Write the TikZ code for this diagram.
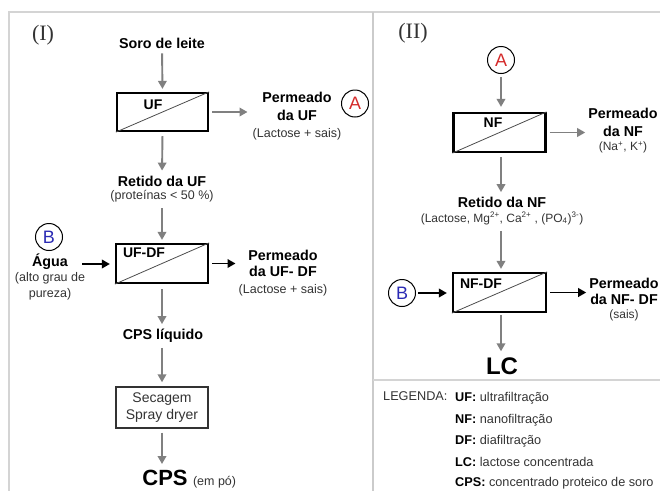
\documentclass[tikz,border=0pt]{standalone}
\usepackage{fontspec}
\setmainfont{Liberation Sans}
\newfontfamily\serifroman{Liberation Serif}
\usetikzlibrary{arrows.meta}
\definecolor{arrgray}{HTML}{808080}
\definecolor{txtgray}{HTML}{333333}
\definecolor{framegray}{HTML}{D4D4D4}
\definecolor{letterred}{HTML}{D42A2A}
\definecolor{letterblue}{HTML}{2A2AB4}
\newcommand{\subA}{\fontsize{12.5}{15}\mdseries\selectfont\color{txtgray}}
\newcommand{\subB}{\fontsize{12}{14}\mdseries\selectfont\color{txtgray}}
\tikzset{
  membox/.style={draw=black, line width=2.2pt, minimum width=91pt, minimum height=38pt, inner sep=0pt},
  drybox/.style={draw=black!80, line width=1.4pt, minimum width=92pt, minimum height=41pt, inner sep=0pt, align=center, font=\fontsize{14}{16.5}\selectfont, text=txtgray},
  diag/.style={draw=black!70, line width=0.8pt},
  garr/.style={draw=arrgray, line width=1.9pt, -{Triangle[length=8pt,width=8.5pt]}},
  barr/.style={draw=black, line width=1.9pt, -{Triangle[length=8pt,width=8.5pt]}},
  ttl/.style={font=\fontsize{14.3}{17.5}\selectfont\bfseries, inner sep=0pt, align=center},
  boxlbl/.style={font=\fontsize{14}{15}\selectfont\bfseries, inner sep=0pt},
  subt/.style={font=\fontsize{12.5}{14}\selectfont, text=txtgray},
  circ/.style={circle, draw=black, line width=1pt, minimum size=27pt, inner sep=0pt, font=\fontsize{18}{18}\selectfont},
  big/.style={font=\fontsize{22}{24}\selectfont\bfseries, inner sep=0pt},
  roman/.style={font=\fontsize{22}{22}\serifroman, text=txtgray, inner sep=0pt},
  frame/.style={draw=framegray, line width=1.6pt},
  legl/.style={font=\fontsize{12.7}{14}\selectfont, text=txtgray, anchor=west, inner sep=0pt}
}
\begin{document}
\begin{tikzpicture}[x=1pt,y=-1pt]
\useasboundingbox (0,0) rectangle (660,490);
% frame
\draw[frame] (9,492) -- (9,12) -- (662,12);
\draw[frame, draw=framegray!120] (373,12) -- (373,492);
\draw[frame] (373,380) -- (662,380);

% ---------- Panel I ----------
\node[roman] (tI) at (43,35) {(I)};
\node[ttl] (soro) at (162,43) {Soro de leite};
\node[membox] (uf) at (162.5,112) {};
\draw[diag] (uf.south west) -- (uf.north east);
\node[boxlbl] (uflbl) at (153,105) {UF};
\draw[garr, shorten <=5pt, shorten >=3pt] (soro.south) -- (uf.north);

\node[ttl] (permuf) at (297,116) {Permeado\\[1pt]da UF\\[-1pt]{\subA(Lactose + sais)}};
\node[circ, text=letterred] (circA) at (355,103.5) {A};
\draw[garr, shorten <=3pt, shorten >=5pt] (uf.east) -- (uf.east -| permuf.west);

\node[ttl] (retuf) at (162,189) {Retido da UF\\[-4pt]{\subA(proteínas < 50 \%)}};
\draw[garr, shorten <=4pt, shorten >=5pt] (uf.south) -- (retuf.north);

\node[membox, minimum width=92pt, minimum height=39pt] (ufdf) at (162,263.5) {};
\draw[diag] (ufdf.south west) -- (ufdf.north east);
\node[boxlbl] (ufdflbl) at (144,253) {UF-DF};
\draw[garr, shorten <=6pt, shorten >=3pt] (retuf.south) -- (ufdf.north);

\node[circ, text=letterblue] (circB) at (49,237) {B};
\node[ttl] (agua) at (50,277) {Água\\[-3pt]{\subA(alto grau de}\\[-1pt]{\subA pureza)}};
\coordinate (aguain) at (82,264);
\draw[barr, shorten >=5pt] (aguain) -- (aguain -| ufdf.west);

\node[ttl] (permufdf) at (283,273) {Permeado\\[-1pt]da UF- DF\\[-1pt]{\subA(Lactose + sais)}};
\draw[barr, shorten <=3pt, shorten >=3pt] (ufdf.east) -- (ufdf.east -| permufdf.west);

\node[ttl] (cpsliq) at (163,336) {CPS líquido};
\draw[garr, shorten <=5pt, shorten >=5pt] (ufdf.south) -- (ufdf.south |- cpsliq.north);

\node[drybox] (dry) at (162,407.5) {Secagem\\Spray dryer};
\draw[garr, shorten <=5pt, shorten >=4pt] (dry.north |- cpsliq.south) -- (dry.north);

\node[big] (cps) at (165,478) {CPS};
\node[subt, anchor=base west, inner sep=0pt] (empo) at ([xshift=5pt]cps.base east) {(em pó)};
\draw[garr, shorten <=4pt, shorten >=6pt] (dry.south) -- (dry.south |- cps.north);

% ---------- Panel II ----------
\node[roman] (tII) at (413,33) {(II)};
\node[circ, text=letterred] (circA2) at (501,60) {A};
\node[membox, minimum width=92pt, minimum height=39pt] (nf) at (499.5,132.5) {};
\draw[diag] (nf.south west) -- (nf.north east);
\node[boxlbl] (nflbl) at (493,123) {NF};
\draw[garr, shorten <=3pt, shorten >=5pt] (circA2.south) -- (circA2.south |- nf.north);

\node[ttl] (permnf) at (623,131) {Permeado\\da NF\\[-3pt]{\subB(Na\textsuperscript{+}, K\textsuperscript{+})}};
\draw[garr, shorten <=3pt, shorten >=3pt] (nf.east) -- (nf.east -| permnf.west);

\node[ttl] (retnf) at (502,211) {Retido da NF\\[-3pt]{\subB(Lactose, Mg\textsuperscript{2+}, Ca\textsuperscript{2+} , (PO\textsubscript{4})\textsuperscript{3-})}};
\draw[garr, shorten <=4pt, shorten >=5pt] (circA2.south |- nf.south) -- (circA2.south |- retnf.north);

\node[membox, minimum width=93pt, minimum height=39pt] (nfdf) at (499.5,292.5) {};
\draw[diag] (nfdf.south west) -- (nfdf.north east);
\node[boxlbl] (nfdflbl) at (481,284) {NF-DF};
\draw[garr, shorten <=6pt, shorten >=3pt] (circA2.south |- retnf.south) -- (circA2.south |- nfdf.north);

\node[circ, text=letterblue] (circB2) at (402,293) {B};
\draw[barr, shorten <=2pt, shorten >=5pt] (circB2.east) -- (circB2.east -| nfdf.west);

\node[ttl] (permnfdf) at (624,300) {Permeado\\[-2pt]da NF- DF\\[-3pt]{\subB(sais)}};
\draw[barr, shorten <=3pt, shorten >=3pt] (nfdf.east) -- (nfdf.east -| permnfdf.west);

\node[big, font=\fontsize{24}{26}\selectfont\bfseries] (lc) at (502,366) {LC};
\draw[garr, shorten <=2pt, shorten >=6pt] (circA2.south |- nfdf.south) -- (circA2.south |- lc.north);

% legend
\node[legl] (legt) at (383,396) {LEGENDA:};
\node[legl] (l1) at (455,398) {\textbf{\color{black}UF:} ultrafiltração};
\node[legl] (l2) at (455,420) {\textbf{\color{black}NF:} nanofiltração};
\node[legl] (l3) at (455,441) {\textbf{\color{black}DF:} diafiltração};
\node[legl] (l4) at (455,462) {\textbf{\color{black}LC:} lactose concentrada};
\node[legl] (l5) at (455,483) {\textbf{\color{black}CPS:} concentrado proteico de soro};
\end{tikzpicture}
\end{document}
